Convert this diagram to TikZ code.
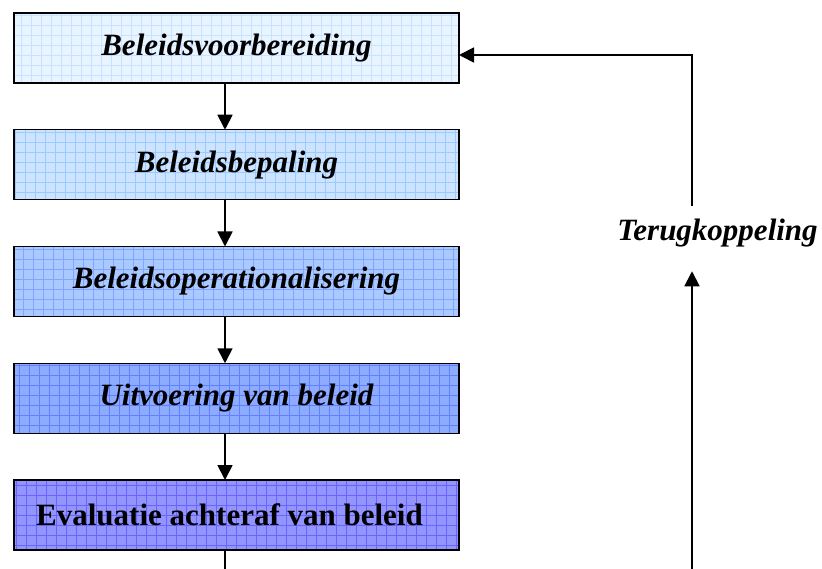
\documentclass[tikz,border=0pt]{standalone}
\usepackage{fontspec}
\setmainfont{Liberation Serif}
\usetikzlibrary{positioning,arrows.meta}

\definecolor{vulA}{HTML}{E8F4FF}
\definecolor{rasA}{HTML}{C8E2FF}
\definecolor{vulB}{HTML}{CCE4FF}
\definecolor{rasB}{HTML}{9CCAFF}
\definecolor{vulC}{HTML}{AACAFF}
\definecolor{rasC}{HTML}{80A6FF}
\definecolor{vulD}{HTML}{8EACFF}
\definecolor{rasD}{HTML}{6080FF}
\definecolor{vulE}{HTML}{9494FF}
\definecolor{rasE}{HTML}{6666FF}

\tikzset{stap/.style 2 args = {draw, line width=1.5pt, fill=#1, outer sep=0pt,
                               minimum width=445pt, minimum height=70pt,
                               path picture={\draw[#2, line width=0.7pt]
                                 (path picture bounding box.south west) grid[step=10pt]
                                 (path picture bounding box.north east);},
                               font=\fontsize{31}{36}\selectfont\bfseries\itshape
                              },
         pijl/.style = {line width=1.8pt, -{Triangle[length=15pt,width=15pt]}},
         lijn/.style = {line width=1.8pt}
        }

\begin{document}
\begin{tikzpicture}[x=1pt, y=1pt]
  \useasboundingbox (0,0) rectangle (822,-569);
  \node[stap={vulA}{rasA}] (voorb) at (236.5,-48) {Beleidsvoorbereiding};
  \node[stap={vulB}{rasB}, below=46.75pt of voorb] (bepal) {Beleidsbepaling};
  \node[stap={vulC}{rasC}, below=46.75pt of bepal] (operat) {Beleidsoperationalisering};
  \node[stap={vulD}{rasD}, below=46.75pt of operat] (uitv) {Uitvoering van beleid};
  \node[stap={vulE}{rasE}, below=46.75pt of uitv, font=\fontsize{31}{36}\selectfont\bfseries] (eval) {Evaluatie achteraf van beleid\hspace*{14pt}};
  \foreach \a/\b in {voorb/bepal, bepal/operat, operat/uitv, uitv/eval}
      {\draw[pijl] ([xshift=-11.5pt]\a.south) -- ([xshift=-11.5pt]\b.north);};
  % terugkoppeling
  \node[inner sep=0pt, font=\fontsize{31}{36}\selectfont\bfseries\itshape] (terug) at (717.5,-233) {Terugkoppeling};
  \coordinate (onder) at (692,-569);
  \coordinate (boven) at (692,-55);
  \draw[lijn] ([xshift=-11.5pt]eval.south) -- ([xshift=-11.5pt]eval.south |- onder);
  \draw[pijl] (onder) -- ([yshift=-24pt]terug.south -| onder);
  \draw[pijl] ([yshift=13pt]terug.north -| onder) -- (boven) -- (voorb.east |- boven);
\end{tikzpicture}
\end{document}
